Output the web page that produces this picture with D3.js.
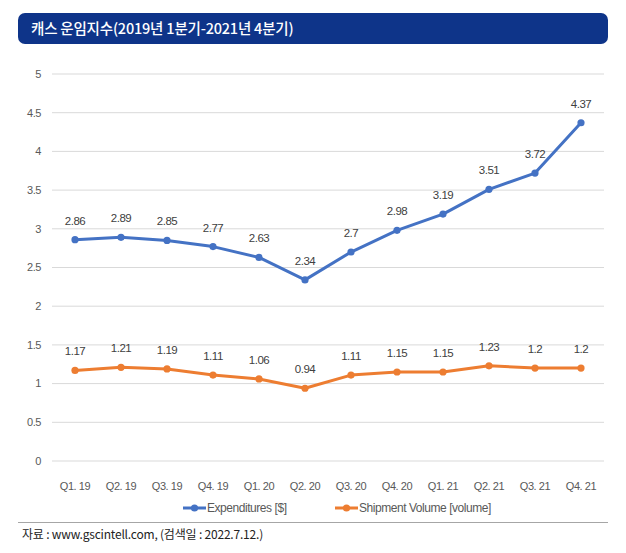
<!DOCTYPE html>
<html>
<head>
<meta charset="utf-8">
<script src="https://cdn.jsdelivr.net/npm/d3@7"></script>
<style>
  body { margin: 0; background: #fff; }
  svg { display: block; }
</style>
</head>
<body>
<div id="chart"></div>
<script>
const quarters = ["Q1. 19", "Q2. 19", "Q3. 19", "Q4. 19", "Q1. 20", "Q2. 20",
  "Q3. 20", "Q4. 20", "Q1. 21", "Q2. 21", "Q3. 21", "Q4. 21"];
const expenditures = [2.86, 2.89, 2.85, 2.77, 2.63, 2.34, 2.7, 2.98, 3.19, 3.51, 3.72, 4.37];
const shipmentVolume = [1.17, 1.21, 1.19, 1.11, 1.06, 0.94, 1.11, 1.15, 1.15, 1.23, 1.2, 1.2];
const yTicks = [0, 0.5, 1, 1.5, 2, 2.5, 3, 3.5, 4, 4.5, 5];
const seriesNames = ["Expenditures [$]", "Shipment Volume [volume]"];
const seriesColors = ["#4472C4", "#ED7D31"];

const width = 626, height = 553;
const plot = { left: 52, right: 604, top: 74, bottom: 461 };
const narrow = '"Liberation Sans", Arial, sans-serif';

const svg = d3.select("#chart").append("svg")
  .attr("width", width).attr("height", height);

// narrow text helper: squeeze horizontally like the condensed font of the original
function narrowText(sel, size) {
  return sel.attr("font-family", narrow)
    .attr("font-size", size)
    .attr("letter-spacing", -0.45);
}

// title bar
svg.append("rect")
  .attr("x", 18).attr("y", 13).attr("width", 590).attr("height", 31)
  .attr("rx", 7).attr("fill", "#0E3489");
svg.append("text")
  .attr("x", 31).attr("y", 34)
  .attr("fill", "#fff")
  .attr("font-family", '"Noto Sans CJK KR", sans-serif')
  .attr("font-size", 14.5)
  .attr("font-weight", 500)
  .attr("letter-spacing", -0.2)
  .text("캐스 운임지수(2019년 1분기-2021년 4분기)");

const x = d3.scaleBand().domain(quarters).range([plot.left, plot.right]);
const y = d3.scaleLinear().domain([0, 5]).range([plot.bottom, plot.top]);

// gridlines
svg.append("g").selectAll("line").data(yTicks).join("line")
  .attr("x1", plot.left).attr("x2", plot.right)
  .attr("y1", d => y(d)).attr("y2", d => y(d))
  .attr("stroke", "#D9D9D9").attr("stroke-width", 1);

// y axis labels
svg.append("g").selectAll("text").data(yTicks).join("text")
  .attr("x", 41).attr("y", d => y(d)).attr("dy", "0.35em")
  .attr("text-anchor", "end")
  .call(narrowText, 11).attr("fill", "#595959")
  .text(d => d);

// x axis labels
svg.append("g").selectAll("text").data(quarters).join("text")
  .attr("x", d => x(d) + x.bandwidth() / 2).attr("y", 486).attr("dy", "0.35em")
  .attr("text-anchor", "middle")
  .call(narrowText, 11).attr("fill", "#595959")
  .text(d => d);

const line = d3.line()
  .x((d, i) => x(quarters[i]) + x.bandwidth() / 2)
  .y(d => y(d));

[expenditures, shipmentVolume].forEach((values, s) => {
  const g = svg.append("g");
  g.append("path").datum(values)
    .attr("d", line)
    .attr("fill", "none")
    .attr("stroke", seriesColors[s])
    .attr("stroke-width", 3)
    .attr("stroke-linejoin", "round");
  g.selectAll("circle").data(values).join("circle")
    .attr("cx", (d, i) => x(quarters[i]) + x.bandwidth() / 2)
    .attr("cy", d => y(d))
    .attr("r", 3.6)
    .attr("fill", seriesColors[s]);
  g.selectAll("text").data(values).join("text")
    .attr("x", (d, i) => x(quarters[i]) + x.bandwidth() / 2)
    .attr("y", d => y(d) - 19)
    .attr("dy", "0.35em")
    .attr("text-anchor", "middle")
    .call(narrowText, 11.5).attr("fill", "#404040")
    .text(d => d);
});

// legend
const legendX = [183, 335];
seriesNames.forEach((name, s) => {
  const g = svg.append("g").attr("transform", `translate(${legendX[s]},508)`);
  g.append("line").attr("x1", 0).attr("x2", 23)
    .attr("stroke", seriesColors[s]).attr("stroke-width", 3);
  g.append("circle").attr("cx", 11.5).attr("r", 3.6).attr("fill", seriesColors[s]);
  g.append("text").attr("x", 24).attr("dy", "0.35em")
    .call(narrowText, 12).attr("fill", "#595959")
    .text(name);
});

// separator and source
svg.append("line")
  .attr("x1", 18).attr("x2", 608).attr("y1", 522.5).attr("y2", 522.5)
  .attr("stroke", "#A6A6A6").attr("stroke-width", 1);
svg.append("text")
  .attr("x", 22).attr("y", 535).attr("dy", "0.35em")
  .attr("font-family", '"Noto Sans CJK KR", sans-serif')
  .attr("font-size", 12).attr("fill", "#222")
  .attr("letter-spacing", -0.2)
  .text("자료 : www.gscintell.com, (검색일 : 2022.7.12.)");
</script>
</body>
</html>
